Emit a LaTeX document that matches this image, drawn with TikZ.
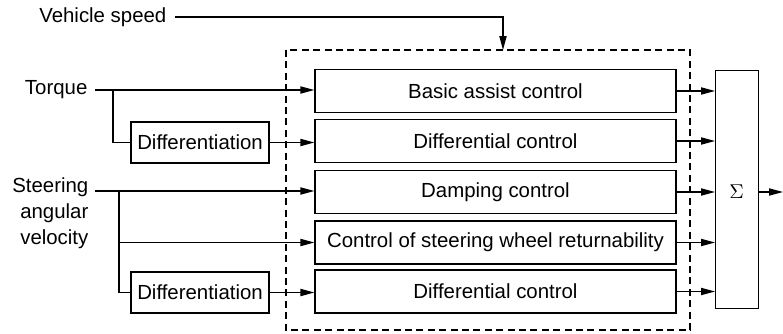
\documentclass[tikz,border=0pt]{standalone}
\usepackage{fontspec}
\setmainfont{Liberation Sans}
\usetikzlibrary{arrows.meta}
\begin{document}
\begin{tikzpicture}[x=0.5pt,y=-0.5pt,
  line width=0.65pt,
  font=\fontsize{10.2}{13}\selectfont,
  blk/.style={draw, rectangle, inner sep=0pt},
  ctrl/.style={blk, minimum width=180.5pt, minimum height=21.5pt},
  diffbox/.style={blk, minimum width=69pt, minimum height=20.5pt},
  lbl/.style={inner sep=0pt},
  sig/.style={-{Triangle[length=7pt,width=3.6pt]}},
  frame/.style={draw, dash pattern=on 3.5pt off 2.2pt}
]
\useasboundingbox (0,0) rectangle (783,333);

% dashed frame around the control blocks
\draw[frame] (286,50) rectangle (690,330);

% control blocks
\node[ctrl] (c1) at (495.5,91)  {Basic assist control};
\node[ctrl] (c2) at (495.5,141) {Differential control};
\node[ctrl] (c3) at (495.5,192) {Damping control};
\node[ctrl] (c4) at (495.5,242.5) {Control of steering wheel returnability};
\node[ctrl] (c5) at (495.5,291.5) {Differential control};

% summing block
\node[blk, minimum width=21.5pt, minimum height=119pt, anchor=north west] (sum) at (715,70) {};
\node[lbl] (sg) at (736.5,192) {$\Sigma$};
\coordinate (out) at (783,192);

% differentiators
\node[diffbox] (d1) at (200,142.5) {Differentiation};
\node[diffbox] (d2) at (200,292.5) {Differentiation};

% input labels
\node[lbl, anchor=east] (vs) at (167,17) {Vehicle speed};
\node[lbl, anchor=east] (tq) at (88,90) {Torque};
\node[lbl, anchor=east, align=right] (sav) at (89,213) {Steering\\angular\\velocity};

\coordinate (vsE) at (175,17);
\coordinate (vsC) at (503,17);
\coordinate (vsT) at (503,50);
\coordinate (tqS) at (95,90);
\coordinate (tqB) at (113,90);
\coordinate (svS) at (95,191);
\coordinate (svB) at (119,191);

% vehicle speed into the frame
\draw[sig] (vsE) -- (vsC) -- (vsT);

% torque paths
\draw[sig] (tqS) -- (c1.west |- tqS);
\draw (tqB) |- (d1.west);
\draw[sig] (d1.east) -- (c2.west |- d1.east);

% steering angular velocity paths
\draw[sig] (svS) -- (c3.west |- svS);
\draw[sig] (svB |- c4.west) -- (c4.west);
\draw (svB) |- (d2.west);
\draw[sig] (d2.east) -- (c5.west |- d2.east);

% control outputs into the sum
\foreach \c in {c1,c2,c3,c4,c5}
  \draw[sig] (\c.east) -- (sum.west |- \c.east);
\draw[sig] (sum.east |- sg) -- (out);
\end{tikzpicture}
\end{document}
